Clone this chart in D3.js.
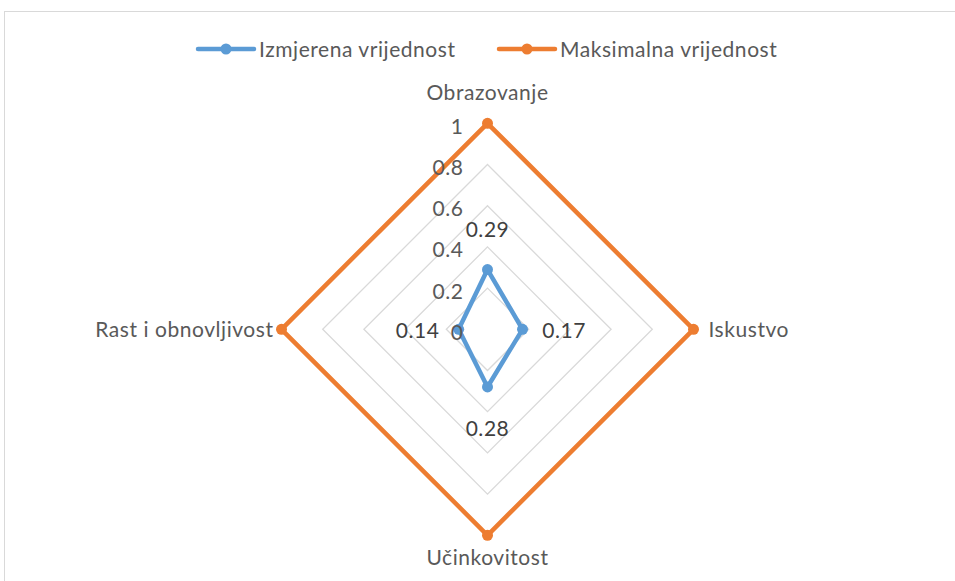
<!DOCTYPE html>
<html><head><meta charset="utf-8">
<script src="https://cdn.jsdelivr.net/npm/d3@7/dist/d3.min.js"></script>
<style>
html,body{margin:0;padding:0;background:#fff;}
text{font-family:Lato,"Open Sans",sans-serif;letter-spacing:0.55px;}
</style></head>
<body><svg id="c" width="955" height="581"></svg>
<script>
const categories = ["Obrazovanje","Iskustvo","Učinkovitost","Rast i obnovljivost"];
const seriesNames = ["Izmjerena vrijednost","Maksimalna vrijednost"];
const measured = [0.29,0.17,0.28,0.14];
const maximum = [1,1,1,1];
const ticks = [0,0.2,0.4,0.6,0.8,1];
const measuredLabels = ["0.29","0.17","0.28","0.14"];

const colors = ["#5B9BD5","#ED7D31"];
const svg = d3.select("#c");
const cx = 487.5, cy = 329.3, R = 206;
const r = d3.scaleLinear().domain([0,1]).range([0,R]);
const ang = d3.scalePoint().domain(categories).range([0, 2*Math.PI*(categories.length-1)/categories.length]);
const pt = (c,v)=>{const a=ang(c); return [cx+Math.sin(a)*r(v), cy-Math.cos(a)*r(v)];};

// border
svg.append("rect").attr("x",4.5).attr("y",11.5).attr("width",1000).attr("height",700)
  .attr("fill","none").attr("stroke","#d9d9d9").attr("stroke-width",1);

// grid
const lineGen = d3.line().curve(d3.curveLinearClosed);
ticks.slice(1,-1).forEach(t=>{
  svg.append("path").attr("d", lineGen(categories.map(c=>pt(c,t))))
    .attr("fill","none").attr("stroke","#d9d9d9").attr("stroke-width",1.3);
});

// series
[[measured,0],[maximum,1]].forEach(([vals,i])=>{
  const pts = categories.map((c,k)=>pt(c,vals[k]));
  svg.append("path").attr("d", lineGen(pts)).attr("fill","none")
    .attr("stroke",colors[i]).attr("stroke-width",4.5).attr("stroke-linejoin","round");
  svg.selectAll(null).data(pts).enter().append("circle")
    .attr("cx",d=>d[0]).attr("cy",d=>d[1]).attr("r",5.5).attr("fill",colors[i]);
});

// tick labels
svg.selectAll(null).data(ticks).enter().append("text")
  .attr("x",cx-24).attr("y",d=>cy-r(d)+10.5)
  .attr("text-anchor","end").attr("font-size",21).attr("fill","#595959")
  .text(d=>d3.format("~g")(d));

// category labels
const catPos = [
  {dx:0, dy:-23, anchor:"middle"},
  {dx:15, dy:7.5, anchor:"start"},
  {dx:0, dy:29.5, anchor:"middle"},
  {dx:-8, dy:7.5, anchor:"end"}
];
categories.forEach((c,k)=>{
  const p = pt(c,1);
  svg.append("text").attr("x",p[0]+catPos[k].dx).attr("y",p[1]+catPos[k].dy)
    .attr("text-anchor",catPos[k].anchor).attr("font-size",21).attr("fill","#595959").text(c);
});

// data labels
const dlOff = [[0,-33],[41.6,8.5],[0,49],[-41,8.5]];
categories.forEach((c,k)=>{
  const p = pt(c,measured[k]);
  svg.append("text").attr("x",p[0]+dlOff[k][0]).attr("y",p[1]+dlOff[k][1])
    .attr("text-anchor","middle").attr("font-size",21).attr("fill","#404040").text(measuredLabels[k]);
});

// legend
const leg = [{x:198, name:seriesNames[0]},{x:499, name:seriesNames[1]}];
leg.forEach((l,i)=>{
  const g = svg.append("g");
  g.append("line").attr("x1",l.x).attr("x2",l.x+56).attr("y1",49).attr("y2",49)
    .attr("stroke",colors[i]).attr("stroke-width",4.5).attr("stroke-linecap","round");
  g.append("circle").attr("cx",l.x+28).attr("cy",49).attr("r",5.5).attr("fill",colors[i]);
  g.append("text").attr("x",l.x+61).attr("y",56.7).attr("font-size",21).attr("fill","#595959").text(l.name);
});
</script></body></html>
